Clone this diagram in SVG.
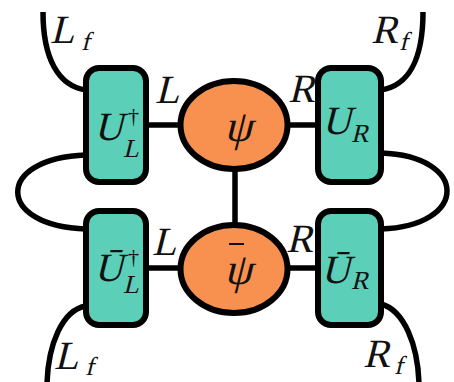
<svg xmlns="http://www.w3.org/2000/svg" width="454" height="382" viewBox="0 0 454 382">
<style>
.box{fill:#5ccfb9;stroke:#000;stroke-width:6}
.ell{fill:#f8914f;stroke:#000;stroke-width:6}
.ln{fill:none;stroke:#000;stroke-width:5.5}
text{font-family:"Liberation Serif",serif;fill:#111}
.t{font-size:40px}
.p{font-size:44px}
.s{font-size:26px}
.d{font-size:22px}
</style>
<rect width="454" height="382" fill="#fff"/>
<g id="connectors">
<path class="ln" d="M86 90 C58 86 43 58 43 12"/>
<path class="ln" d="M381 90 C408 86 423 60 423 12"/>
<path class="ln" d="M86 306 C62 310 48 345 47 384"/>
<path class="ln" d="M381 304 C404 310 418 345 419 384"/>
<path class="ln" d="M86 155 C-5 158 -5 226 86 229"/>
<path class="ln" d="M381 153 C469 156 469 226 381 229"/>
<line class="ln" x1="146" y1="125" x2="182" y2="125"/>
<line class="ln" x1="285" y1="125" x2="318" y2="125"/>
<line class="ln" x1="146" y1="268" x2="182" y2="268"/>
<line class="ln" x1="285" y1="268" x2="318" y2="268"/>
<line class="ln" x1="235" y1="169" x2="235" y2="225"/>
</g>
<g id="UL">
<rect class="box" x="86" y="68" width="60" height="114" rx="13"/>
<text class="t" transform="translate(94 140) skewX(-14)">U</text>
<text class="d" x="128" y="123">†</text>
<text class="s" transform="translate(123 157) skewX(-14)">L</text>
</g>
<g id="UR">
<rect class="box" x="318" y="68" width="63" height="114" rx="13"/>
<text class="t" transform="translate(322 134) skewX(-14)">U</text>
<text class="s" transform="translate(351 142) skewX(-14)">R</text>
</g>
<g id="ULbar">
<rect class="box" x="86" y="211" width="60" height="114" rx="13"/>
<text class="t" transform="translate(94 281) skewX(-14)">Ū</text>
<text class="d" x="128" y="264">†</text>
<text class="s" transform="translate(123 293) skewX(-14)">L</text>
</g>
<g id="URbar">
<rect class="box" x="318" y="211" width="63" height="114" rx="13"/>
<text class="t" transform="translate(321 283) skewX(-14)">Ū</text>
<text class="s" transform="translate(351 289) skewX(-14)">R</text>
</g>
<g id="psi">
<ellipse class="ell" cx="234" cy="125" rx="53.5" ry="44"/>
<text class="p" text-anchor="middle" transform="translate(238 141) skewX(-14)">ψ</text>
</g>
<g id="psibar">
<ellipse class="ell" cx="234" cy="269" rx="53.5" ry="44"/>
<text class="p" text-anchor="middle" transform="translate(238 284) skewX(-14)">ψ</text>
<line x1="229" y1="244" x2="244" y2="244" stroke="#111" stroke-width="2"/>
</g>
<g id="labels">
<text class="t" transform="translate(50 43) skewX(-14)">L</text><text class="s" transform="translate(81 50) skewX(-14)">f</text>
<text class="t" transform="translate(155 103) skewX(-14)">L</text>
<text class="t" transform="translate(288 102) skewX(-14)">R</text>
<text class="t" transform="translate(371 43) skewX(-14)">R</text><text class="s" transform="translate(399 50) skewX(-14)">f</text>
<text class="t" transform="translate(152 255) skewX(-14)">L</text>
<text class="t" transform="translate(286 252) skewX(-14)">R</text>
<text class="t" transform="translate(54 369) skewX(-14)">L</text><text class="s" transform="translate(85 375) skewX(-14)">f</text>
<text class="t" transform="translate(363 367) skewX(-14)">R</text><text class="s" transform="translate(394 374) skewX(-14)">f</text>
</g>
</svg>
